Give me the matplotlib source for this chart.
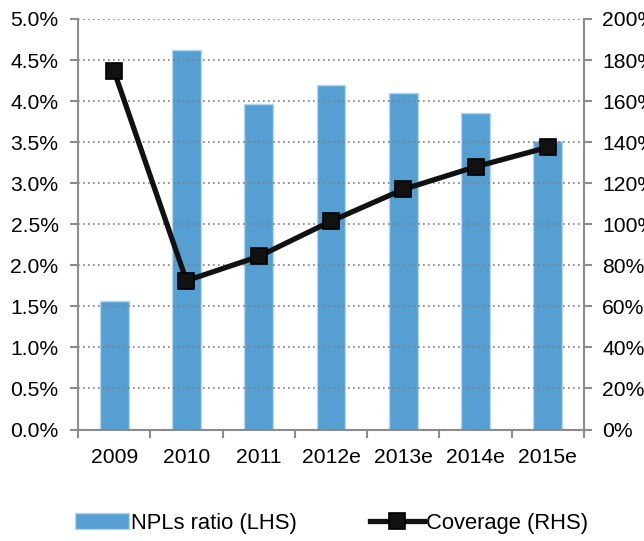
import matplotlib
matplotlib.use("Agg")
import matplotlib.pyplot as plt
import numpy as np
from matplotlib.ticker import FuncFormatter

plt.rcParams['font.family'] = ['Liberation Sans', 'DejaVu Sans']

categories = ["2009", "2010", "2011", "2012e", "2013e", "2014e", "2015e"]
npl_ratio = [1.56, 4.62, 3.97, 4.20, 4.10, 3.85, 3.51]      # %
coverage = [174.5, 72.5, 84.3, 101.5, 117.0, 128.0, 137.5]  # %

left_ticks = [0.0, 0.5, 1.0, 1.5, 2.0, 2.5, 3.0, 3.5, 4.0, 4.5, 5.0]
right_ticks = [0, 20, 40, 60, 80, 100, 120, 140, 160, 180, 200]

bar_color = "#559FD3"
spine_color = "#8C8C8C"
fs = 15.2

fig = plt.figure(figsize=(6.44, 5.41), dpi=100)
ax = fig.add_axes([78/644, 1 - 429.5/541, (584-78)/644, (429.5-19)/541])
x = np.arange(len(categories))

ax.bar(x, npl_ratio, width=0.4, color=bar_color, edgecolor="#B5D6EF",
       linewidth=1.0, zorder=1, label="NPLs ratio (LHS)")
ax.set_ylim(0, 5.0)
ax.set_xlim(-0.5, len(categories) - 0.5)
ax.set_yticks(left_ticks)
ax.yaxis.set_major_formatter(FuncFormatter(lambda v, p: f"{v:.1f}%"))
ax.set_axisbelow(False)
ax.grid(axis='y', linestyle=(0, (1, 2)), color="#7F7F7F", linewidth=1.2, zorder=2.5)
ax.set_xticks(x)
ax.set_xticklabels(categories)
ax.set_xticks(np.arange(-0.5, len(categories)), minor=True)
ax.tick_params(axis='x', which='major', length=0, pad=13, labelsize=fs)
ax.tick_params(axis='x', which='minor', length=6, width=1.5, color=spine_color, direction='out')
ax.tick_params(axis='y', length=6, width=1.5, color=spine_color, pad=8, labelsize=fs)

for s in ['top', 'right']:
    ax.spines[s].set_visible(False)
for s in ['left', 'bottom']:
    ax.spines[s].set_color(spine_color)
    ax.spines[s].set_linewidth(1.5)

ax2 = ax.twinx()
ax2.plot(x, coverage, color="#111111", linewidth=3.8, marker='s', markersize=11,
         markerfacecolor="#111111", markeredgecolor="#000000", markeredgewidth=1.2,
         label="Coverage (RHS)", zorder=5)
ax2.set_ylim(0, 200)
ax2.set_yticks(right_ticks)
ax2.yaxis.set_major_formatter(FuncFormatter(lambda v, p: f"{v:.0f}%"))
ax2.tick_params(axis='y', length=6, width=1.5, color=spine_color, pad=7, labelsize=fs)
for s in ['top', 'left', 'bottom']:
    ax2.spines[s].set_visible(False)
ax2.spines['right'].set_color(spine_color)
ax2.spines['right'].set_linewidth(1.5)

h1, l1 = ax.get_legend_handles_labels()
h2, l2 = ax2.get_legend_handles_labels()
fig.legend(h1 + h2, l1 + l2, loc='center', bbox_to_anchor=(0.515, 0.033), ncol=2,
           frameon=False, fontsize=15.8, handlelength=2.45, handletextpad=0.1,
           columnspacing=3.3)

fig.savefig("out.png", dpi=100)
